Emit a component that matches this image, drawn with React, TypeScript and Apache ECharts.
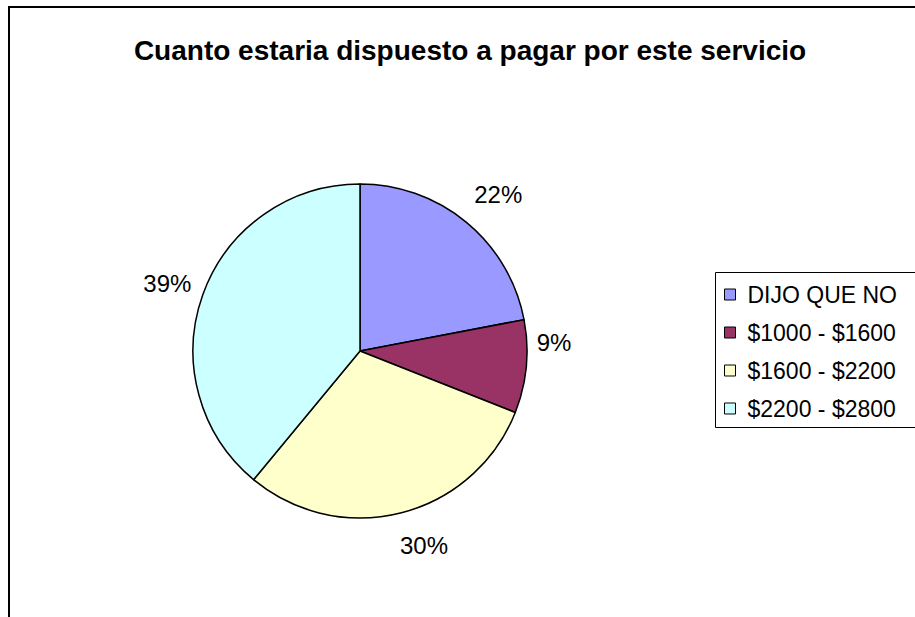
import React, { useEffect, useRef } from "react";
import * as echarts from "echarts";

const titleText = "Cuanto estaria dispuesto a pagar por este servicio";
const categories = ["DIJO QUE NO", "$1000 - $1600", "$1600 - $2200", "$2200 - $2800"];
const values = [22, 9, 30, 39];
const colors = ["#9999FF", "#993366", "#FFFFCC", "#CCFFFF"];

export default function App() {
  const ref = useRef<HTMLDivElement>(null);
  useEffect(() => {
    if (!ref.current) return;
    const chart = echarts.init(ref.current, null, { renderer: "svg" });
    const font = "'Liberation Sans', Arial, sans-serif";
    const labelNudge: Record<number, number[]> = { 1: [-14, -28], 2: [12, -8], 0: [5, 5], 3: [4, 3] };
    chart.setOption({
      animation: false,
      backgroundColor: "#ffffff",
      title: {
        text: titleText,
        left: 465,
        textAlign: "center",
        top: 31,
        textStyle: { fontFamily: font, fontSize: 28, fontWeight: "bold", color: "#000" },
      },
      graphic: [
        {
          type: "rect",
          shape: { x: 9, y: 7, width: 1200, height: 1200 },
          style: { fill: "none", stroke: "#000", lineWidth: 2 },
          silent: true,
          z: 100,
        },
        {
          type: "rect",
          shape: { x: 715.5, y: 272.5, width: 400, height: 155 },
          style: { fill: "none", stroke: "#000", lineWidth: 1 },
          silent: true,
          z: 100,
        },
      ],
      legend: {
        orient: "vertical",
        left: 715,
        top: 272,
        data: categories,
        borderWidth: 0,
        padding: [11, 10, 7, 9],
        itemGap: 15,
        itemWidth: 11,
        itemHeight: 11,
        icon: "rect",
        itemStyle: { borderColor: "#000", borderWidth: 1 },
        textStyle: { fontFamily: font, fontSize: 23, color: "#000", padding: [0, 0, 0, 7] },
        selectedMode: false,
      },
      series: [
        {
          type: "pie",
          center: [360, 351],
          radius: 167,
          startAngle: 90,
          clockwise: true,
          silent: true,
          label: { show: false },
          labelLine: { show: false },
          itemStyle: { borderColor: "#000", borderWidth: 1.5 },
          data: categories.map((c, i) => ({ name: c, value: values[i], itemStyle: { color: colors[i] } })),
        },
        {
          type: "pie",
          center: [360, 351],
          radius: [196, 216],
          startAngle: 90,
          clockwise: true,
          silent: true,
          itemStyle: { color: "rgba(0,0,0,0)", borderWidth: 0 },
          labelLine: { show: false },
          label: {
            show: true,
            position: "inside",
            formatter: "{d}%",
            fontFamily: font,
            fontSize: 24,
            color: "#000",
          },
          data: categories.map((c, i) => ({
            name: c,
            value: values[i],
            label: { offset: labelNudge[i] },
          })),
        },
      ],
    });
    return () => chart.dispose();
  }, []);
  return (
    <div
      ref={ref}
      style={{ position: "absolute", left: 0, top: 0, width: 915, height: 617 }}
    />
  );
}
